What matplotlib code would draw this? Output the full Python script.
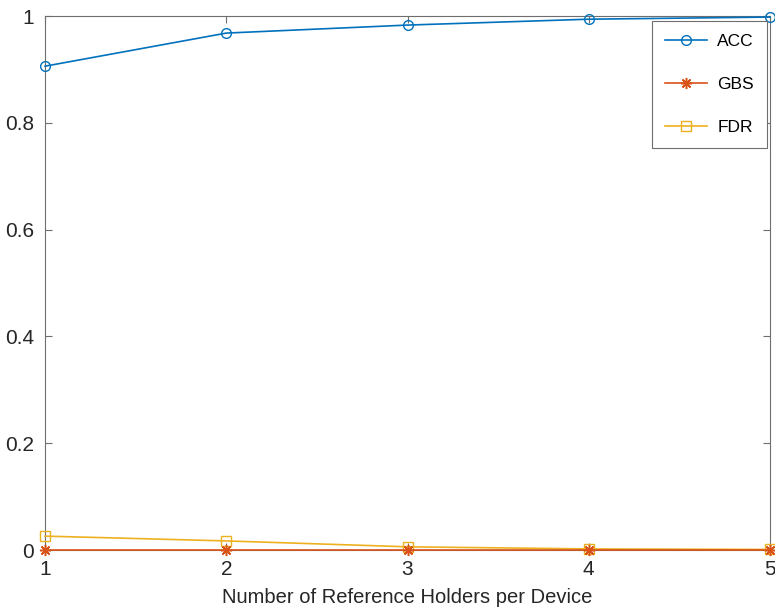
import matplotlib.pyplot as plt
import numpy as np

plt.rcParams['font.family'] = ['Liberation Sans', 'DejaVu Sans']

holders = [1, 2, 3, 4, 5]
acc = [0.906, 0.968, 0.983, 0.994, 0.998]
gbs = [0.0, 0.0, 0.0, 0.0, 0.0]
fdr = [0.026, 0.017, 0.006, 0.002, 0.001]

text_col = '#262626'
axis_col = '#6e6e6e'

fig = plt.figure(figsize=(7.75, 6.11), dpi=100)
ax = fig.add_axes([45 / 775, 61 / 611, 725 / 775, 534 / 611])

ax.plot(holders, acc, color='#0072BD', marker='o', markersize=7, markerfacecolor='none',
        linewidth=1.2, label='ACC', clip_on=False, zorder=3)
# asterisk marker, 8 arms
ax.plot(holders, gbs, color='#D95319', marker=(8, 2, 0), markersize=8, markeredgewidth=1.1,
        linewidth=1.2, label='GBS', clip_on=False, zorder=4)
ax.plot(holders, fdr, color='#EDB120', marker='s', markersize=7, markerfacecolor='none',
        linewidth=1.2, label='FDR', clip_on=False, zorder=3)

ax.set_xlim(1, 5)
ax.set_ylim(0, 1)
ax.set_xticks(holders)
ax.set_yticks(np.arange(0, 1.01, 0.2))
ax.set_yticklabels(['0', '0.2', '0.4', '0.6', '0.8', '1'])
ax.set_xlabel('Number of Reference Holders per Device', fontsize=14.5, color=text_col,
              labelpad=7)
ax.tick_params(direction='in', top=True, right=True, labelsize=15, labelcolor=text_col,
               color=axis_col, length=5, width=0.8)
ax.tick_params(axis='y', pad=8)
ax.tick_params(axis='x', pad=7)
for s in ax.spines.values():
    s.set_color(axis_col)
    s.set_linewidth(0.8)

leg = ax.legend(loc='upper right', bbox_to_anchor=(0.996, 0.991), borderaxespad=0,
                fontsize=12.5, labelspacing=1.6, handlelength=2.4, handletextpad=0.6,
                borderpad=0.75, fancybox=False, edgecolor=axis_col, framealpha=1)
leg.get_frame().set_linewidth(0.8)

fig.savefig('out.png', dpi=100)
